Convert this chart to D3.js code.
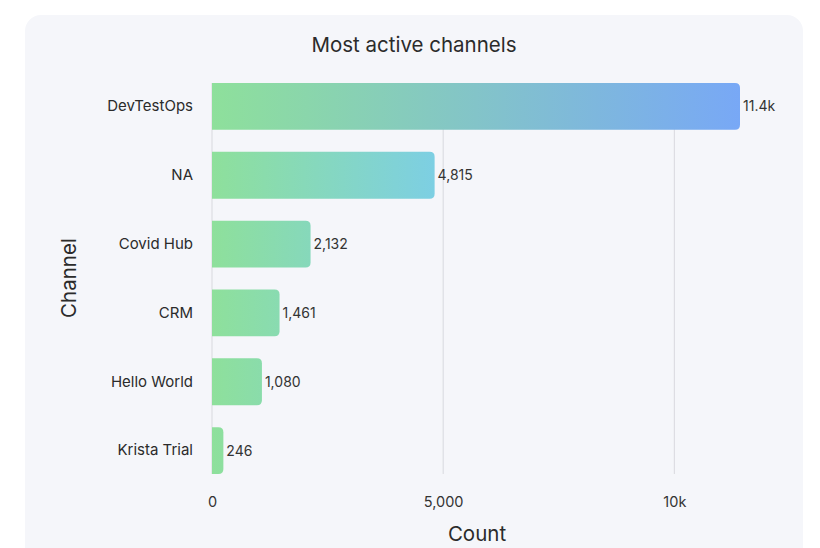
<!DOCTYPE html>
<html><head><meta charset="utf-8">
<script src="https://cdn.jsdelivr.net/npm/d3@7"></script>
<style>body{margin:0;background:#fff;}svg{display:block;font-family:Inter,Roboto,sans-serif;}</style>
</head><body>
<svg id="c" width="820" height="548"></svg>
<script>
const categories = ["DevTestOps","NA","Covid Hub","CRM","Hello World","Krista Trial"];
const values = [11420, 4815, 2132, 1461, 1080, 246];
const valueLabels = ["11.4k","4,815","2,132","1,461","1,080","246"];
const tickValues = [0, 5000, 10000];
const tickLabels = ["0","5,000","10k"];
const title = "Most active channels";
const xTitle = "Count";
const yTitle = "Channel";

const svg = d3.select("#c");
const plotLeft = 212, plotTop = 72, plotBottom = 485;
const FONT = "Inter,Roboto,sans-serif";

svg.append("rect").attr("x",25).attr("y",15).attr("width",778).attr("height",580)
  .attr("rx",16).attr("fill","#f5f6fa");

svg.append("text").attr("x",414).attr("y",52).attr("text-anchor","middle")
  .attr("font-size",20.5).attr("fill","#2b2b2b").text(title);

const x = d3.scaleLinear().domain([0, 11420]).range([plotLeft, 740]);
const y = d3.scaleBand().domain(categories).range([plotTop, plotBottom]).paddingInner(0.32).paddingOuter(0.16);

const endColor = d3.scaleLinear().domain([0, 4800, 11420]).range(["#8ee09b","#7dcfe3","#78a8f6"]).interpolate(d3.interpolateRgb);

const defs = svg.append("defs");
categories.forEach((c,i)=>{
  const g = defs.append("linearGradient").attr("id","g"+i).attr("x1","0").attr("x2","1").attr("y1","0").attr("y2","0");
  g.append("stop").attr("offset","0%").attr("stop-color","#8ee09b");
  g.append("stop").attr("offset","100%").attr("stop-color",endColor(values[i]));
});

// gridlines
const gy0 = y(categories[0]), gy1 = y(categories[categories.length-1]) + y.bandwidth();
svg.append("g").selectAll("line").data(tickValues).join("line")
  .attr("x1",d=>x(d)).attr("x2",d=>x(d)).attr("y1",gy0).attr("y2",gy1)
  .attr("stroke","#d8d9de").attr("stroke-width",1);

// bars
const r = 5;
svg.append("g").selectAll("path").data(categories).join("path")
  .attr("d",(c,i)=>{
    const x0 = x(0), x1 = x(values[i]), y0 = y(c), h = y.bandwidth();
    const rr = Math.min(r, (x1-x0));
    return `M${x0},${y0}H${x1-rr}Q${x1},${y0} ${x1},${y0+rr}V${y0+h-rr}Q${x1},${y0+h} ${x1-rr},${y0+h}H${x0}Z`;
  })
  .attr("fill",(c,i)=>`url(#g${i})`);

// value labels
svg.append("g").selectAll("text").data(categories).join("text")
  .attr("x",(c,i)=>x(values[i])+3).attr("y",c=>y(c)+y.bandwidth()/2+5)
  .attr("font-size",14).attr("fill","#333").text((c,i)=>valueLabels[i]);

// y axis labels
const yAxis = d3.axisLeft(y).tickSize(0).tickPadding(19);
const gy = svg.append("g").attr("transform",`translate(${plotLeft},0)`).call(yAxis);
gy.select(".domain").remove();
gy.selectAll("text").attr("font-size",15).attr("fill","#2b2b2b").attr("font-family",FONT);

// x axis
const xAxis = d3.axisBottom(x).tickValues(tickValues).tickFormat((d,i)=>tickLabels[i]).tickSize(0).tickPadding(13);
const gx = svg.append("g").attr("transform",`translate(0,${gy1+10})`).call(xAxis);
gx.select(".domain").remove();
gx.selectAll("text").attr("font-size",14.5).attr("fill","#333").attr("font-family",FONT);

svg.append("text").attr("x",477).attr("y",541).attr("text-anchor","middle")
  .attr("font-size",20.5).attr("fill","#2b2b2b").text(xTitle);
svg.append("text").attr("transform",`translate(76,278) rotate(-90)`).attr("text-anchor","middle")
  .attr("font-size",20.5).attr("fill","#2b2b2b").text(yTitle);
</script>
</body></html>
